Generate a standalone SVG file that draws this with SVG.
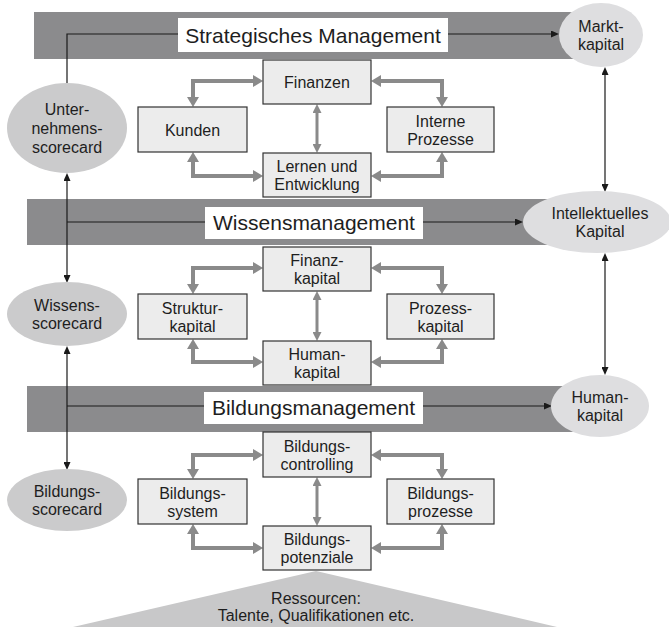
<svg xmlns="http://www.w3.org/2000/svg" width="669" height="627" viewBox="0 0 669 627">
<style>
text{font-family:"Liberation Sans",Arial,sans-serif;font-size:16px;fill:#1e1e1e;text-anchor:middle}
.title{font-size:21px}
.band{fill:#8b8b8d}
.lbl{fill:#ffffff}
.box{fill:#ececec;stroke:#333;stroke-width:1.2}
.ell{fill:#cbcbcc}
.ellr{fill:#dedee0}
.g{fill:none;stroke:#8a8a8a;stroke-width:4;stroke-linejoin:miter;marker-start:url(#gh);marker-end:url(#gh)}
.gv{fill:none;stroke:#8a8a8a;stroke-width:3;marker-start:url(#gs);marker-end:url(#gs)}
.k{fill:none;stroke:#1a1a1a;stroke-width:1.2}
.k1{marker-end:url(#kh)}
.k2{marker-start:url(#kh);marker-end:url(#kh)}
</style>
<defs>
<marker id="gh" viewBox="0 -6 10 12" refX="0" refY="0" markerWidth="10" markerHeight="12" markerUnits="userSpaceOnUse" orient="auto-start-reverse"><path d="M0,-6 L10,0 L0,6 z" fill="#8a8a8a"/></marker>
<marker id="gs" viewBox="0 -4.5 9 9" refX="0" refY="0" markerWidth="9" markerHeight="9" markerUnits="userSpaceOnUse" orient="auto-start-reverse"><path d="M0,-4.5 L9,0 L0,4.5 z" fill="#8a8a8a"/></marker>
<marker id="kh" viewBox="0 -3.5 8 7" refX="0" refY="0" markerWidth="8" markerHeight="7" markerUnits="userSpaceOnUse" orient="auto-start-reverse"><path d="M0,-3.5 L8,0 L0,3.5 z" fill="#1a1a1a"/></marker>
</defs>

<g id="bands">
<rect class="band" x="34" y="12" width="541" height="47"/>
<rect class="band" x="27" y="199" width="548" height="46"/>
<rect class="band" x="27" y="386" width="548" height="46"/>
</g>

<g id="ressourcen">
<polygon points="316,571 557,627 73,627" fill="#c8c8c9"/>
<text x="316" y="604">Ressourcen:</text>
<text x="316" y="621">Talente, Qualifikationen etc.</text>
</g>

<g id="connectors">
<path class="k" d="M67,83 L67,34 L178,34"/>
<path class="k k1" d="M448,34 L551,34"/>
<path class="k k2" d="M67,181 L67,275"/>
<path class="k" d="M67,222 L205,222"/>
<path class="k k1" d="M423,222 L515,222"/>
<path class="k k2" d="M67,354 L67,462"/>
<path class="k" d="M67,406 L204,406"/>
<path class="k k1" d="M423,406 L544,406"/>
<path class="k k2" d="M605,75 L605,184"/>
<path class="k k2" d="M605,261 L605,367"/>

<path class="g" d="M193,97 L193,81 L253,81"/>
<path class="g" d="M193,162 L193,176 L253,176"/>
<path class="g" d="M381,81 L442,81 L442,97"/>
<path class="g" d="M381,176 L442,176 L442,162"/>
<path class="gv" d="M317,113 L317,144"/>

<path class="g" d="M193,284 L193,268 L253,268"/>
<path class="g" d="M193,349 L193,362 L253,362"/>
<path class="g" d="M381,268 L442,268 L442,284"/>
<path class="g" d="M381,362 L442,362 L442,349"/>
<path class="gv" d="M317,300 L317,332"/>

<path class="g" d="M193,469 L193,455 L253,455"/>
<path class="g" d="M193,534 L193,548 L253,548"/>
<path class="g" d="M381,455 L442,455 L442,469"/>
<path class="g" d="M381,548 L442,548 L442,534"/>
<path class="gv" d="M317,486 L317,517"/>
</g>

<g id="strategisches-management"><rect class="lbl" x="178" y="18" width="270" height="34"/><text class="title" x="313" y="42.5">Strategisches Management</text></g>
<g id="wissensmanagement"><rect class="lbl" x="205" y="207" width="218" height="32"/><text class="title" x="314" y="230">Wissensmanagement</text></g>
<g id="bildungsmanagement"><rect class="lbl" x="204" y="392" width="219" height="32"/><text class="title" x="313.5" y="415">Bildungsmanagement</text></g>

<g id="unternehmensscorecard"><ellipse class="ell" cx="67" cy="128" rx="60" ry="45"/><text x="67" y="115">Unter-</text><text x="67" y="134">nehmens-</text><text x="67" y="153">scorecard</text></g>
<g id="wissensscorecard"><ellipse class="ell" cx="67" cy="314" rx="60" ry="32"/><text x="67" y="311">Wissens-</text><text x="67" y="329">scorecard</text></g>
<g id="bildungsscorecard"><ellipse class="ell" cx="67" cy="500" rx="60" ry="31"/><text x="67" y="497">Bildungs-</text><text x="67" y="515">scorecard</text></g>

<g id="marktkapital"><ellipse class="ellr" cx="601" cy="35" rx="42" ry="32"/><text x="601" y="32">Markt-</text><text x="601" y="50">kapital</text></g>
<g id="intellektuelles-kapital"><ellipse class="ellr" cx="597" cy="222" rx="74" ry="31"/><text x="600" y="219">Intellektuelles</text><text x="600" y="237">Kapital</text></g>
<g id="humankapital-r"><ellipse class="ellr" cx="600" cy="406" rx="49" ry="31"/><text x="600" y="403">Human-</text><text x="600" y="421">kapital</text></g>

<g id="finanzen"><rect class="box" x="263" y="60" width="108" height="44"/><text x="317" y="88">Finanzen</text></g>
<g id="kunden"><rect class="box" x="138" y="107" width="109" height="45"/><text x="192.5" y="135.5">Kunden</text></g>
<g id="interne-prozesse"><rect class="box" x="387" y="107" width="107" height="45"/><text x="440.5" y="126.5">Interne</text><text x="440.5" y="144.5">Prozesse</text></g>
<g id="lernen"><rect class="box" x="263" y="153" width="108" height="44"/><text x="317" y="172">Lernen und</text><text x="317" y="190">Entwicklung</text></g>

<g id="finanzkapital"><rect class="box" x="263" y="247" width="108" height="44"/><text x="317" y="266">Finanz-</text><text x="317" y="284">kapital</text></g>
<g id="strukturkapital"><rect class="box" x="138" y="294" width="109" height="45"/><text x="192.5" y="313.5">Struktur-</text><text x="192.5" y="331.5">kapital</text></g>
<g id="prozesskapital"><rect class="box" x="387" y="294" width="107" height="45"/><text x="440.5" y="313.5">Prozess-</text><text x="440.5" y="331.5">kapital</text></g>
<g id="humankapital"><rect class="box" x="263" y="341" width="108" height="44"/><text x="317" y="360">Human-</text><text x="317" y="378">kapital</text></g>

<g id="bildungscontrolling"><rect class="box" x="263" y="432" width="108" height="45"/><text x="317" y="451.5">Bildungs-</text><text x="317" y="469.5">controlling</text></g>
<g id="bildungssystem"><rect class="box" x="138" y="479" width="109" height="45"/><text x="192.5" y="498.5">Bildungs-</text><text x="192.5" y="516.5">system</text></g>
<g id="bildungsprozesse"><rect class="box" x="387" y="479" width="107" height="45"/><text x="440.5" y="498.5">Bildungs-</text><text x="440.5" y="516.5">prozesse</text></g>
<g id="bildungspotenziale"><rect class="box" x="263" y="526" width="108" height="44"/><text x="317" y="545">Bildungs-</text><text x="317" y="563">potenziale</text></g>
</svg>
